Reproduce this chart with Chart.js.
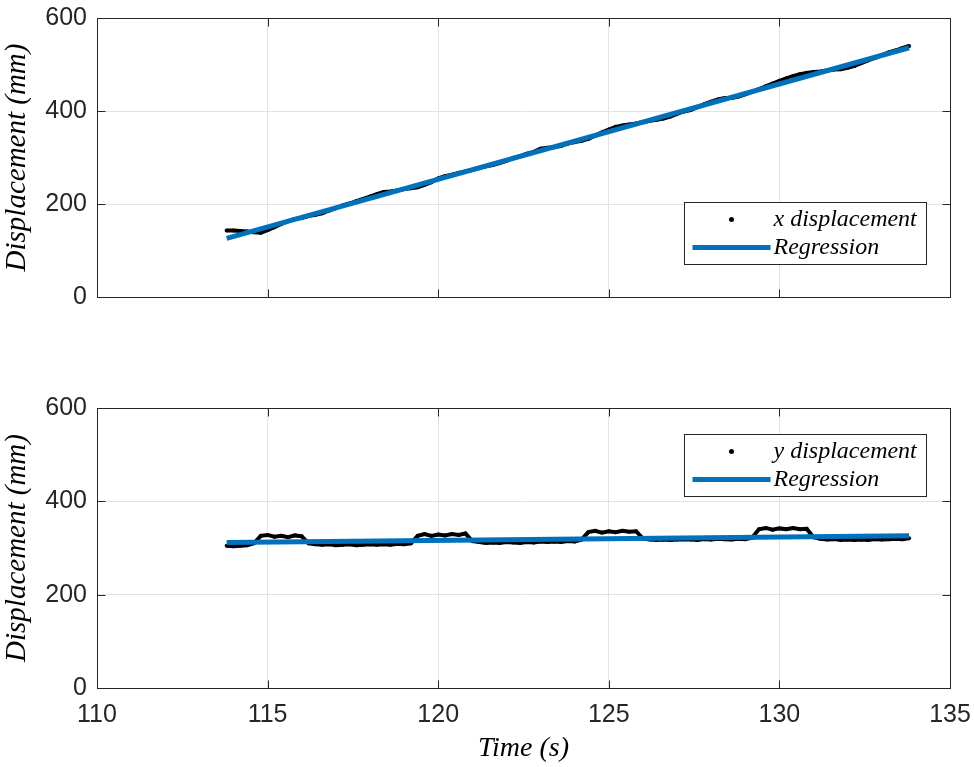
<!DOCTYPE html>
<html lang="en">
  <head>
    <meta charset="UTF-8" />
    <title>Displacement vs Time</title>
    <script src="https://cdn.jsdelivr.net/npm/chart.js"></script>
    <style>
      html, body { margin: 0; padding: 0; background: #fff; }
      #page { position: relative; width: 974px; height: 767px; }
      .panel { position: absolute; left: 0; width: 974px; }
      #topPanel { top: 0; height: 340px; }
      #bottomPanel { top: 340px; height: 427px; }
    </style>
  </head>
  <body>
    <div id="page">
      <div class="panel" id="topPanel"><canvas id="xChart"></canvas></div>
      <div class="panel" id="bottomPanel"><canvas id="yChart"></canvas></div>
    </div>

    <script>
      // sample times (s)
      const times = [
        113.8, 114.0, 114.2, 114.4, 114.6, 114.8, 115.0, 115.2, 115.4, 115.6,
        115.8, 116.0, 116.2, 116.4, 116.6, 116.8, 117.0, 117.2, 117.4, 117.6,
        117.8, 118.0, 118.2, 118.4, 118.6, 118.8, 119.0, 119.2, 119.4, 119.6,
        119.8, 120.0, 120.2, 120.4, 120.6, 120.8, 121.0, 121.2, 121.4, 121.6,
        121.8, 122.0, 122.2, 122.4, 122.6, 122.8, 123.0, 123.2, 123.4, 123.6,
        123.8, 124.0, 124.2, 124.4, 124.6, 124.8, 125.0, 125.2, 125.4, 125.6,
        125.8, 126.0, 126.2, 126.4, 126.6, 126.8, 127.0, 127.2, 127.4, 127.6,
        127.8, 128.0, 128.2, 128.4, 128.6, 128.8, 129.0, 129.2, 129.4, 129.6,
        129.8, 130.0, 130.2, 130.4, 130.6, 130.8, 131.0, 131.2, 131.4, 131.6,
        131.8, 132.0, 132.2, 132.4, 132.6, 132.8, 133.0, 133.2, 133.4, 133.6,
        133.8,
      ];

      // x displacement (mm)
      const xDisp = [
        143, 143, 142, 141, 139, 138, 144, 150, 157, 163,
        168, 170, 174, 177, 180, 186, 191, 197, 201, 206,
        211, 216, 221, 226, 227, 229, 232, 234, 236, 241,
        247, 255, 260, 263, 267, 270, 273, 277, 281, 284,
        288, 293, 299, 303, 308, 312, 319, 321, 322, 325,
        330, 333, 336, 340, 347, 354, 360, 366, 369, 371,
        373, 376, 379, 381, 384, 388, 394, 399, 402, 408,
        415, 420, 425, 428, 428, 431, 436, 441, 447, 453,
        459, 465, 470, 475, 479, 482, 484, 485, 487, 489,
        490, 493, 497, 503, 509, 514, 520, 526, 530, 535,
        540,
      ];

      // y displacement (mm)
      const yDisp = [
        305, 304, 305, 306, 310, 326, 328, 324, 326, 323,
        327, 325, 310, 308, 307, 308, 306, 307, 308, 306,
        307, 308, 307, 308, 307, 309, 308, 310, 326, 330,
        326, 329, 327, 330, 328, 331, 315, 313, 311, 312,
        311, 313, 312, 311, 313, 312, 314, 313, 314, 313,
        315, 314, 318, 334, 337, 333, 336, 334, 337, 335,
        336, 320, 318, 317, 318, 317, 318, 319, 318, 317,
        319, 318, 320, 319, 318, 320, 319, 322, 340, 343,
        339, 342, 340, 343, 340, 341, 323, 320, 318, 319,
        317, 318, 317, 318, 317, 319, 318, 319, 320, 319,
        321,
      ];

      // regression end points
      const regTimes = [113.8, 133.8];
      const xRegression = [126, 536];
      const yRegression = [312, 326];

      const xTicks = [110, 115, 120, 125, 130, 135];
      const yTicks = [0, 200, 400, 600];

      const axisColor = "#262626";
      const blue = "#0072BD";

      function toPoints(xs, ys) {
        return xs.map((x, i) => ({ x: x, y: ys[i] }));
      }

      // MATLAB style box with inward ticks on all sides
      const boxPlugin = {
        id: "matBox",
        afterDraw(chart) {
          const { ctx, chartArea: a, scales } = chart;
          const L = Math.round(a.left) + 0.5,
            R = Math.round(a.right) + 0.5,
            T = Math.round(a.top) + 0.5,
            B = Math.round(a.bottom) + 0.5;
          ctx.save();
          ctx.strokeStyle = axisColor;
          ctx.lineWidth = 1;
          ctx.strokeRect(L, T, R - L, B - T);
          ctx.beginPath();
          for (const v of xTicks) {
            const px = Math.round(scales.x.getPixelForValue(v)) + 0.5;
            ctx.moveTo(px, B);
            ctx.lineTo(px, B - 8);
            ctx.moveTo(px, T);
            ctx.lineTo(px, T + 8);
          }
          for (const v of yTicks) {
            const py = Math.round(scales.y.getPixelForValue(v)) + 0.5;
            ctx.moveTo(L, py);
            ctx.lineTo(L + 8, py);
            ctx.moveTo(R, py);
            ctx.lineTo(R - 8, py);
          }
          ctx.stroke();
          ctx.restore();
        },
      };

      // boxed legend in the plot area
      const legendPlugin = {
        id: "boxLegend",
        afterDraw(chart, args, opts) {
          const { ctx, chartArea: a } = chart;
          const w = 242,
            h = 62;
          const left = Math.round(a.right - 24 - w) + 0.5;
          const top = Math.round(a.top + opts.offsetTop) + 0.5;
          ctx.save();
          ctx.fillStyle = "#fff";
          ctx.fillRect(left, top, w, h);
          ctx.strokeStyle = axisColor;
          ctx.lineWidth = 1;
          ctx.strokeRect(left, top, w, h);

          // dot
          ctx.fillStyle = "#000";
          ctx.beginPath();
          ctx.arc(left + 47, top + 17, 2.5, 0, Math.PI * 2);
          ctx.fill();
          // line
          ctx.strokeStyle = blue;
          ctx.lineWidth = 5;
          ctx.beginPath();
          ctx.moveTo(left + 8, top + 45);
          ctx.lineTo(left + 86, top + 45);
          ctx.stroke();

          ctx.fillStyle = "#000";
          ctx.font = "italic 24px 'Liberation Serif', 'Times New Roman', serif";
          ctx.textBaseline = "middle";
          ctx.textAlign = "left";
          ctx.fillText(opts.labels[0], left + 89, top + 17);
          ctx.fillText(opts.labels[1], left + 89, top + 45);
          ctx.restore();
        },
      };

      function makeChart(id, values, regValues, opts) {
        return new Chart(document.getElementById(id), {
          type: "scatter",
          data: {
            datasets: [
              {
                label: "Regression",
                data: toPoints(regTimes, regValues),
                showLine: true,
                borderColor: blue,
                borderWidth: 5,
                pointRadius: 0,
                order: 0,
              },
              {
                label: opts.dataLabel,
                data: toPoints(times, values),
                showLine: true,
                borderColor: "#000",
                borderWidth: 4,
                backgroundColor: "#000",
                pointRadius: 2,
                pointBorderWidth: 0,
                order: 1,
              },
            ],
          },
          options: {
            responsive: true,
            maintainAspectRatio: false,
            animation: false,
            events: [],
            layout: {
              padding: { left: 0, right: 24, top: opts.padTop, bottom: 0 },
            },
            plugins: {
              legend: { display: false },
              tooltip: { enabled: false },
              boxLegend: {
                labels: [opts.dataLabel, "Regression"],
                offsetTop: opts.legendTop,
              },
            },
            scales: {
              x: {
                type: "linear",
                min: 110,
                max: 135,
                afterBuildTicks: (scale) => {
                  scale.ticks = xTicks.map((v) => ({ value: v }));
                },
                afterFit: (scale) => {
                  scale.height = opts.xHeight;
                  scale.paddingLeft = 0;
                  scale.paddingRight = 0;
                },
                grid: { color: "#e3e3e3", drawTicks: false },
                border: { display: false },
                ticks: {
                  display: opts.showXLabels,
                  padding: 12,
                  color: axisColor,
                  font: { family: "'Liberation Sans', Arial, sans-serif", size: 25 },
                },
                title: {
                  display: opts.showXLabels,
                  text: "Time (s)",
                  color: "#000",
                  padding: { top: 0, bottom: 2 },
                  font: {
                    family: "'Liberation Serif', 'Times New Roman', serif",
                    style: "italic",
                    size: 28,
                  },
                },
              },
              y: {
                min: 0,
                max: 600,
                afterBuildTicks: (scale) => {
                  scale.ticks = yTicks.map((v) => ({ value: v }));
                },
                afterFit: (scale) => {
                  scale.width = 97;
                  scale.paddingTop = 0;
                  scale.paddingBottom = 0;
                },
                grid: { color: "#e3e3e3", drawTicks: false },
                border: { display: false },
                ticks: {
                  padding: 10,
                  color: axisColor,
                  font: { family: "'Liberation Sans', Arial, sans-serif", size: 25 },
                },
                title: {
                  display: true,
                  text: "Displacement (mm)",
                  color: "#000",
                  padding: { top: 0, bottom: 0 },
                  font: {
                    family: "'Liberation Serif', 'Times New Roman', serif",
                    style: "italic",
                    size: 29,
                  },
                },
              },
            },
          },
          plugins: [boxPlugin, legendPlugin],
        });
      }

      makeChart("xChart", xDisp, xRegression, {
        dataLabel: "x displacement",
        padTop: 18,
        xHeight: 43,
        showXLabels: false,
        legendTop: 184,
      });

      makeChart("yChart", yDisp, yRegression, {
        dataLabel: "y displacement",
        padTop: 68,
        xHeight: 79,
        showXLabels: true,
        legendTop: 26,
      });
    </script>
  </body>
</html>
